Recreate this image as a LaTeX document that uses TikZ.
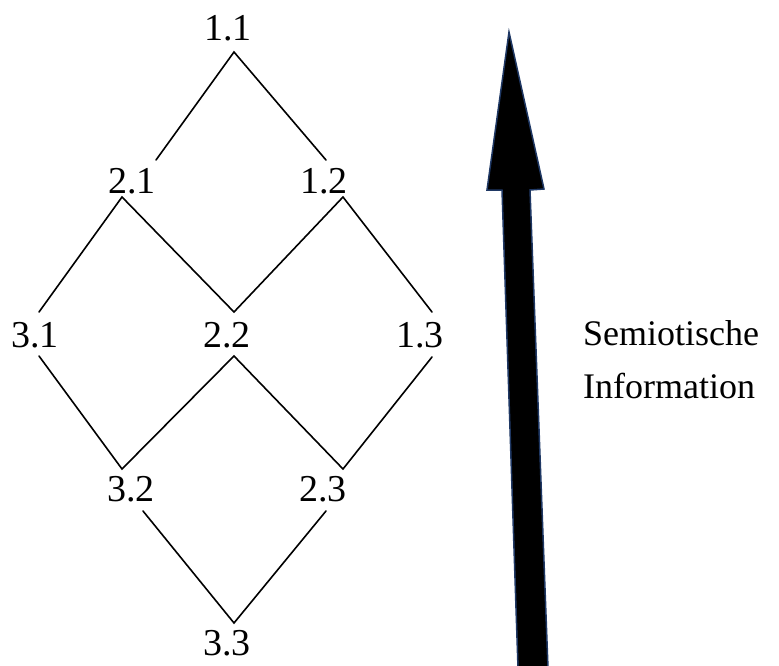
\documentclass[tikz,border=0pt]{standalone}
\usepackage{fontspec}
\setmainfont{Liberation Serif}
\definecolor{arrowrim}{HTML}{1F3864}
\begin{document}
\begin{tikzpicture}[x=1pt,y=-1pt,
  lbl/.style={inner sep=0pt, anchor=base, font=\fontsize{38}{44}\selectfont},
  side/.style={inner sep=0pt, anchor=base west, font=\fontsize{36}{42}\selectfont},
  edge/.style={line width=1.6pt, line cap=round},
  bigarrow/.style={fill=black, draw=arrowrim, line width=1.5pt, line join=miter}]
\useasboundingbox (0,0) rectangle (779,665);

% lattice of sign classes
\node[lbl] (n11) at (228,40)  {1.1};
\node[lbl] (n21) at (132,193) {2.1};
\node[lbl] (n12) at (324,193) {1.2};
\node[lbl] (n31) at (35,347)  {3.1};
\node[lbl] (n22) at (227,347) {2.2};
\node[lbl] (n13) at (420,347) {1.3};
\node[lbl] (n32) at (131,501) {3.2};
\node[lbl] (n23) at (323,501) {2.3};
\node[lbl] (n33) at (227,655) {3.3};

% connection points around the labels
\coordinate (n11s) at ([shift={(6,12)}]n11.base);
\coordinate (n21ne) at ([shift={(24,-33)}]n21.base);
\coordinate (n21s) at ([shift={(-10,4)}]n21.base);
\coordinate (n12nw) at ([shift={(2,-33)}]n12.base);
\coordinate (n12s) at ([shift={(19,4)}]n12.base);
\coordinate (n31n) at ([shift={(4,-35)}]n31.base);
\coordinate (n31s) at ([shift={(4,9)}]n31.base);
\coordinate (n22n) at ([shift={(7,-35)}]n22.base);
\coordinate (n22s) at ([shift={(7,9)}]n22.base);
\coordinate (n13n) at ([shift={(12,-35)}]n13.base);
\coordinate (n13s) at ([shift={(12,10)}]n13.base);
\coordinate (n32n) at ([shift={(-9,-32)}]n32.base);
\coordinate (n32s) at ([shift={(12,10)}]n32.base);
\coordinate (n23n) at ([shift={(20,-32)}]n23.base);
\coordinate (n23s) at ([shift={(3,10)}]n23.base);
\coordinate (n33n) at ([shift={(7,-32)}]n33.base);

\draw[edge] (n21ne) -- (n11s) -- (n12nw);
\draw[edge] (n31n) -- (n21s) -- (n22n) -- (n12s) -- (n13n);
\draw[edge] (n31s) -- (n32n) -- (n22s) -- (n23n) -- (n13s);
\draw[edge] (n32s) -- (n33n) -- (n23s);

% upward arrow
\draw[bigarrow] (509,32) -- (544,189) -- (530,190) -- (548,668)
  -- (518,668) -- (502,190) -- (487,190) -- cycle;

% side labels
\node[side] (sem) at (583,345) {Semiotische};
\node[side] (inf) at (583,398) {Information};
\end{tikzpicture}
\end{document}
